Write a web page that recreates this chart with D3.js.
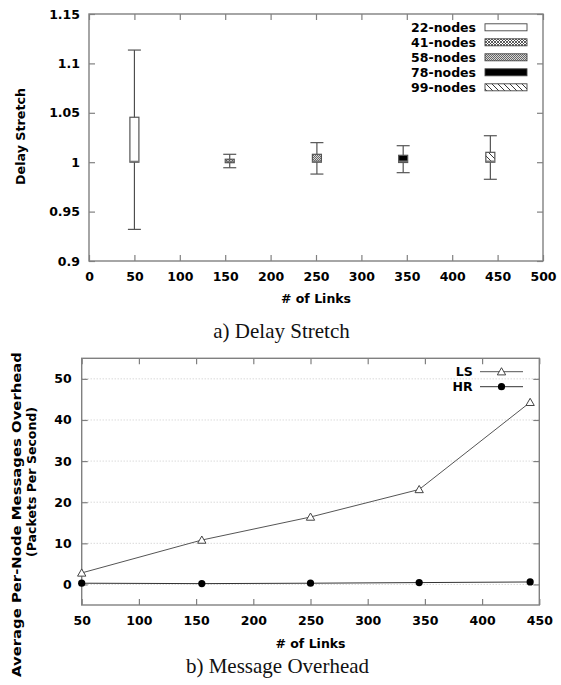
<!DOCTYPE html>
<html>
<head>
<meta charset="utf-8">
<script src="https://cdn.jsdelivr.net/npm/d3@7"></script>
<style>
  html, body { margin: 0; padding: 0; background: #fff; }
  svg { display: block; }
  .lab { font-family: "DejaVu Sans", sans-serif; font-weight: bold; font-size: 12.5px; fill: #000; }
  .cap { font-family: "Liberation Serif", "Times New Roman", serif; font-size: 21px; fill: #111; }
</style>
</head>
<body>
<script>
// ---------- Data: (a) Delay Stretch ----------
const nodeSeries   = ["22-nodes", "41-nodes", "58-nodes", "78-nodes", "99-nodes"];
const boxLinks     = [50, 155, 251, 346, 442];
const whiskerLow   = [0.932, 0.9944, 0.988, 0.9894, 0.9827];
const boxLow       = [1.000, 0.9995, 1.000, 0.9997, 1.000];
const boxHigh      = [1.0455, 1.003, 1.008, 1.007, 1.010];
const whiskerHigh  = [1.1135, 1.0080, 1.0198, 1.0167, 1.0268];
const boxMedian    = [1.0008, 1.001, 1.001, 1.001, 1.001];
const xTicksA      = [0, 50, 100, 150, 200, 250, 300, 350, 400, 450, 500];
const yTicksA      = [0.9, 0.95, 1, 1.05, 1.1, 1.15];

// ---------- Data: (b) Message Overhead ----------
const linksB   = [50, 155, 250, 345, 442];
const lsValues = [2.8, 10.8, 16.4, 23.1, 44.3];
const hrValues = [0.3, 0.2, 0.3, 0.45, 0.6];
const xTicksB  = [50, 100, 150, 200, 250, 300, 350, 400, 450];
const yTicksB  = [0, 10, 20, 30, 40, 50];
const seriesB  = ["LS", "HR"];

const W = 561, H = 685;
const svg = d3.select("body").append("svg").attr("width", W).attr("height", H);

// ---------- patterns ----------
const defs = svg.append("defs");
const p41 = defs.append("pattern").attr("id", "p41").attr("patternUnits", "userSpaceOnUse")
  .attr("width", 3).attr("height", 3);
p41.append("rect").attr("width", 3).attr("height", 3).attr("fill", "#fff");
p41.append("path").attr("d", "M0,0L3,3M3,0L0,3").attr("stroke", "#333").attr("stroke-width", 0.8);
const p58 = defs.append("pattern").attr("id", "p58").attr("patternUnits", "userSpaceOnUse")
  .attr("width", 2).attr("height", 2);
p58.append("rect").attr("width", 2).attr("height", 2).attr("fill", "#d8d8d8");
p58.append("rect").attr("width", 1).attr("height", 1).attr("fill", "#666");
p58.append("rect").attr("x", 1).attr("y", 1).attr("width", 1).attr("height", 1).attr("fill", "#666");
const p99 = defs.append("pattern").attr("id", "p99").attr("patternUnits", "userSpaceOnUse")
  .attr("width", 6).attr("height", 6);
p99.append("rect").attr("width", 6).attr("height", 6).attr("fill", "#fff");
p99.append("path").attr("d", "M0,0L6,6M-3,3L0,6M3,-3L9,3").attr("stroke", "#222").attr("stroke-width", 0.9);

const fills = ["#fff", "url(#p41)", "url(#p58)", "#000", "url(#p99)"];
const borderCol = "#808080";

function frame(g, x, y, xTicks, yTicks, xPad, yPad) {
  const [x0, x1] = x.range(), [y0, y1] = y.range();
  g.append("g").attr("transform", `translate(0,${y0})`)
    .call(d3.axisBottom(x).tickValues(xTicks).tickSize(-6).tickPadding(xPad).tickFormat(d => String(d)))
    .call(s => s.select(".domain").remove());
  g.append("g").attr("transform", `translate(0,${y1})`)
    .call(d3.axisTop(x).tickValues(xTicks).tickSize(-6).tickFormat(""))
    .call(s => s.select(".domain").remove());
  g.append("g").attr("transform", `translate(${x0},0)`)
    .call(d3.axisLeft(y).tickValues(yTicks).tickSize(-6).tickPadding(yPad).tickFormat(d => String(d)))
    .call(s => s.select(".domain").remove());
  g.append("g").attr("transform", `translate(${x1},0)`)
    .call(d3.axisRight(y).tickValues(yTicks).tickSize(-6).tickFormat(""))
    .call(s => s.select(".domain").remove());
  g.selectAll(".tick line").attr("stroke", borderCol).attr("stroke-width", 1.2);
  g.selectAll(".tick text").attr("class", "lab").attr("font-family", null).attr("font-size", null).attr("fill", null);
  g.append("rect").attr("x", x0).attr("y", y1).attr("width", x1 - x0).attr("height", y0 - y1)
    .attr("fill", "none").attr("stroke", borderCol).attr("stroke-width", 1.4);
}

function rotLabel(g, x, y, txt, len) {
  g.append("text").attr("class", "lab").attr("text-anchor", "middle")
    .attr("transform", `translate(${x},${y}) rotate(-90)`)
    .attr("textLength", len).attr("lengthAdjust", "spacingAndGlyphs").text(txt);
}

// ================= (a) =================
const xA = d3.scaleLinear([0, 500], [89, 543]);
const yA = d3.scaleLinear([0.9, 1.15], [261, 14]);
const gA = svg.append("g");
frame(gA, xA, yA, xTicksA, yTicksA, 11, 9);

const boxW = 9, capW = 13;
boxLinks.forEach((l, i) => {
  const cx = xA(l);
  gA.append("line").attr("x1", cx).attr("x2", cx).attr("y1", yA(whiskerLow[i])).attr("y2", yA(whiskerHigh[i]))
    .attr("stroke", "#444").attr("stroke-width", 1.1);
  [whiskerLow[i], whiskerHigh[i]].forEach(v => {
    gA.append("line").attr("x1", cx - capW / 2).attr("x2", cx + capW / 2).attr("y1", yA(v)).attr("y2", yA(v))
      .attr("stroke", "#555").attr("stroke-width", 1.2);
  });
  gA.append("rect").attr("x", cx - boxW / 2).attr("width", boxW)
    .attr("y", yA(boxHigh[i])).attr("height", yA(boxLow[i]) - yA(boxHigh[i]))
    .attr("fill", fills[i]).attr("stroke", "#555").attr("stroke-width", 1.2);
  gA.append("line").attr("x1", cx - boxW / 2).attr("x2", cx + boxW / 2).attr("y1", yA(boxMedian[i])).attr("y2", yA(boxMedian[i]))
    .attr("stroke", "#777").attr("stroke-width", 1.4);
});

nodeSeries.forEach((name, i) => {
  const ry = 27.3 + i * 15;
  gA.append("text").attr("class", "lab").attr("x", 476).attr("y", ry + 4.5).attr("text-anchor", "end").text(name);
  gA.append("rect").attr("x", 485).attr("y", ry - 3.5).attr("width", 42).attr("height", 7)
    .attr("fill", fills[i]).attr("stroke", "#444").attr("stroke-width", 0.9);
});

rotLabel(gA, 24.5, 136.5, "Delay Stretch", 97);
gA.append("text").attr("class", "lab").attr("text-anchor", "middle").attr("x", 316).attr("y", 302.5).text("# of Links");
svg.append("text").attr("class", "cap").attr("text-anchor", "middle").attr("x", 281.5).attr("y", 338).text("a) Delay Stretch");

// ================= (b) =================
const xB = d3.scaleLinear([50, 450], [81.7, 539.3]);
const yB = d3.scaleLinear([-5, 55], [605, 358.3]);
const gB = svg.append("g");

gB.append("g").selectAll("line").data(yTicksB).join("line")
  .attr("x1", xB.range()[0]).attr("x2", xB.range()[1]).attr("y1", d => yB(d)).attr("y2", d => yB(d))
  .attr("stroke", "#bbb").attr("stroke-width", 0.8).attr("stroke-dasharray", "1,2");

frame(gB, xB, yB, xTicksB, yTicksB, 11, 10);

const line = d3.line().x(d => xB(d[0])).y(d => yB(d[1]));
const lsPts = linksB.map((l, i) => [l, lsValues[i]]);
const hrPts = linksB.map((l, i) => [l, hrValues[i]]);
gB.append("path").attr("d", line(lsPts)).attr("fill", "none").attr("stroke", "#555").attr("stroke-width", 1);
gB.append("path").attr("d", line(hrPts)).attr("fill", "none").attr("stroke", "#333").attr("stroke-width", 1);

const tri = d3.symbol().type(d3.symbolTriangle).size(30);
function triMark(g, x, y) {
  g.append("path").attr("d", tri()).attr("transform", `translate(${x},${y + 0.8})`)
    .attr("fill", "#fff").attr("stroke", "#444").attr("stroke-width", 1);
}
function dotMark(g, x, y) {
  g.append("circle").attr("cx", x).attr("cy", y).attr("r", 3.6).attr("fill", "#000");
}
lsPts.forEach(p => triMark(gB, xB(p[0]), yB(p[1])));
hrPts.forEach(p => dotMark(gB, xB(p[0]), yB(p[1])));

seriesB.forEach((name, i) => {
  const ry = 371.7 + i * 15;
  gB.append("text").attr("class", "lab").attr("x", 472.7).attr("y", ry + 4.5).attr("text-anchor", "end").text(name);
  gB.append("line").attr("x1", 480).attr("x2", 523).attr("y1", ry).attr("y2", ry)
    .attr("stroke", i === 0 ? "#555" : "#333").attr("stroke-width", 1);
  if (i === 0) triMark(gB, 501.5, ry); else dotMark(gB, 501.5, ry);
});

rotLabel(gB, 21, 514.5, "Average Per-Node Messages Overhead", 325);
rotLabel(gB, 36, 482, "(Packets Per Second)", 150);
gB.append("text").attr("class", "lab").attr("text-anchor", "middle").attr("x", 310.5).attr("y", 648).text("# of Links");
svg.append("text").attr("class", "cap").attr("text-anchor", "middle").attr("x", 277.5).attr("y", 673).text("b) Message Overhead");
</script>
</body>
</html>
